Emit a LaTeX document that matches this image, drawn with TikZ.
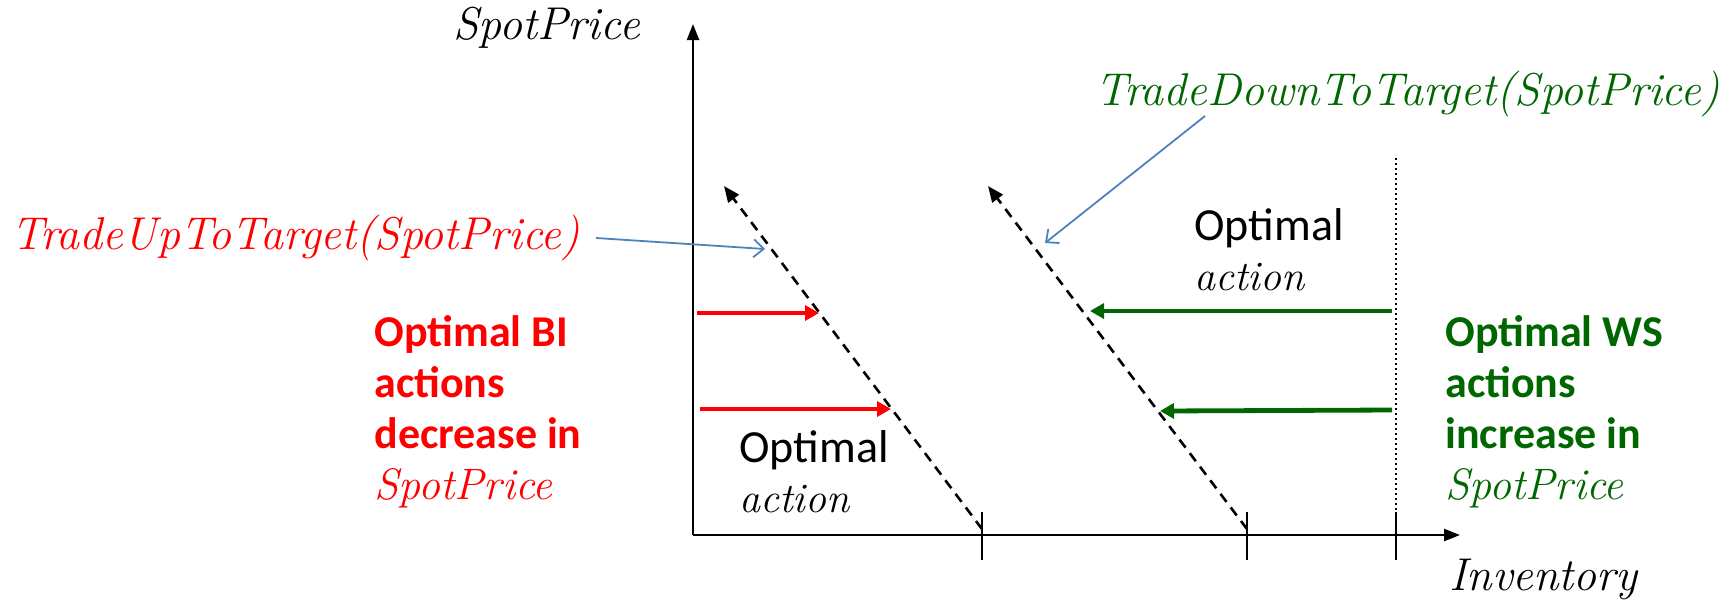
\documentclass[tikz,border=0pt]{standalone}
\usepackage{fontspec}
\setmainfont{Carlito}
\newfontfamily\handfont{Latin Modern Roman}
\usetikzlibrary{positioning,arrows.meta}
\definecolor{bired}{RGB}{255,0,0}
\definecolor{wsgreen}{RGB}{0,102,0}
\definecolor{callblue}{RGB}{79,129,189}

\begin{document}
\begin{tikzpicture}[
    x=0.5pt, y=-0.5pt,
    axis/.style={-{Triangle[length=8pt,width=6pt]}, line width=1.2pt},
    tick/.style={line width=1.1pt},
    target/.style={-{Triangle[length=8pt,width=6.5pt]}, line width=1.3pt, dash pattern=on 5pt off 3.5pt},
    limit/.style={line width=1pt, dash pattern=on 1pt off 1.5pt},
    biarrow/.style={-{Triangle[length=7pt,width=7.5pt]}, line width=2.4pt, bired},
    wsarrow/.style={-{Triangle[length=7pt,width=7.5pt]}, line width=2.4pt, wsgreen},
    callout/.style={-{Straight Barb[length=5pt,width=9pt]}, callblue, line width=0.9pt},
    hand/.style={font=\handfont\itshape\fontsize{23}{28}\selectfont, inner sep=0pt},
    summary/.style={font=\bfseries\fontsize{22}{25.5}\selectfont, align=left, inner sep=0pt},
    optlabel/.style={font=\fontsize{23}{25}\selectfont, align=left, inner sep=0pt}
]
\useasboundingbox (0,0) rectangle (1734,607);

% axes
\coordinate (origin) at (693,535);
\coordinate (ytop) at (693,24);
\coordinate (xend) at (1460,535);
\draw[axis] (origin) -- (ytop);
\draw[axis] (origin) -- (xend);
\node[hand, anchor=west] (ylabel) at (453,28) {SpotPrice};
\node[hand, anchor=west] (xlabel) at (1449,579) {Inventory};

% ticks
\foreach \tx in {982, 1247, 1396} {
    \draw[tick] (\tx,512) -- (\tx,560);
}

% target lines
\coordinate (upbot) at (982,529);
\coordinate (uptop) at (724,186);
\coordinate (downbot) at (1247,529);
\coordinate (downtop) at (988,186);
\draw[target] (upbot) -- (uptop);
\draw[target] (downbot) -- (downtop);
\coordinate (limtop) at (1396,158);
\coordinate (limbot) at (1396,535);
\draw[limit] (limtop) -- (limbot);

% BI actions
\coordinate (bi1s) at (697,313);
\coordinate (bi1e) at (819,313);
\coordinate (bi2s) at (700,409);
\coordinate (bi2e) at (891,409);
\draw[biarrow] (bi1s) -- (bi1e);
\draw[biarrow] (bi2s) -- (bi2e);

% WS actions
\coordinate (ws1s) at (1392,311);
\coordinate (ws1e) at (1090,311);
\coordinate (ws2s) at (1392,410);
\coordinate (ws2e) at (1160,411);
\draw[wsarrow] (ws1s) -- (ws1e);
\draw[wsarrow] (ws2s) -- (ws2e);

% labels
\node[hand, text=bired, anchor=west] (uplabel) at (11,238) {TradeUpToTarget(SpotPrice)};
\node[hand, text=wsgreen, anchor=west] (downlabel) at (1095,94) {TradeDownToTarget(SpotPrice)};
\coordinate (uphit) at (765,249);
\coordinate (downfrom) at (1205,116);
\coordinate (downhit) at (1045,243);
\draw[callout] ([xshift=8pt]uplabel.east) -- (uphit);
\draw[callout] (downfrom) -- (downhit);

\node[summary, text=bired, anchor=north west] (bitext) at (374,315)
    {Optimal BI\\actions\\decrease in\\{\handfont\itshape\mdseries SpotPrice}};
\node[summary, text=wsgreen, anchor=north west] (wstext) at (1445,315)
    {Optimal WS\\actions\\increase in\\{\handfont\itshape\mdseries SpotPrice}};

\node[optlabel, anchor=north west] (optlow) at (739,430)
    {Optimal\\{\handfont\itshape\fontsize{21}{25}\selectfont action}};
\node[optlabel, anchor=north west] (opthigh) at (1194,208)
    {Optimal\\{\handfont\itshape\fontsize{21}{25}\selectfont action}};

\end{tikzpicture}
\end{document}
